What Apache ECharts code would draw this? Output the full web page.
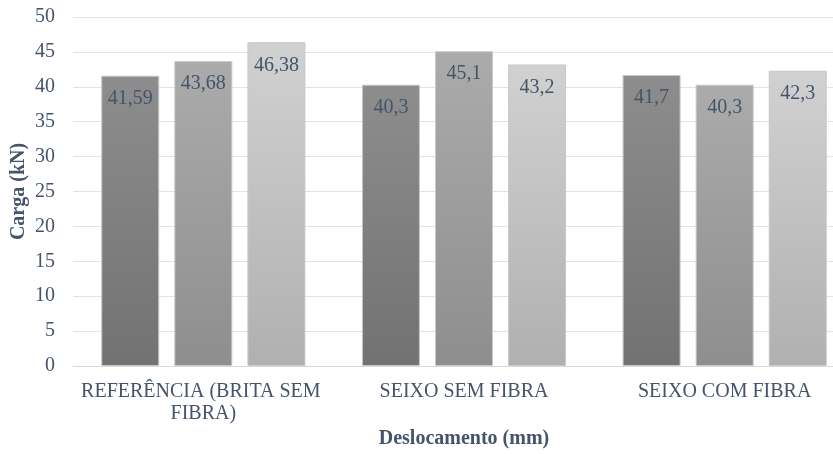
<!DOCTYPE html>
<html>
<head>
<meta charset="utf-8">
<script src="https://cdn.jsdelivr.net/npm/echarts@6/dist/echarts.min.js"></script>
<style>
  html, body { margin: 0; padding: 0; background: #fff; }
  #chart { width: 833px; height: 454px; }
</style>
</head>
<body>
<div id="chart"></div>
<script>
const chart = echarts.init(document.getElementById('chart'));

// data
const categories = ['REFERÊNCIA (BRITA SEM FIBRA)', 'SEIXO SEM FIBRA', 'SEIXO COM FIBRA'];
const serie1 = [41.59, 40.3, 41.7];
const serie2 = [43.68, 45.1, 40.3];
const serie3 = [46.38, 43.2, 42.3];
const yTicks = [0, 50, 5]; // min, max, interval

const textColor = '#44546a';
const fontName = '"Liberation Serif", "Times New Roman", serif';

// vertical gradients, one per series
const shades = [
  ['#8d8d8d', '#727272'],
  ['#ababab', '#8e8e8e'],
  ['#d1d1d1', '#b0b0b0']
];

function makeSeries(values, i) {
  return {
    type: 'bar',
    data: values,
    barWidth: 58,
    barGap: '26%',
    itemStyle: {
      color: new echarts.graphic.LinearGradient(0, 0, 0, 1, [
        { offset: 0, color: shades[i][0] },
        { offset: 1, color: shades[i][1] }
      ]),
      borderColor: '#c8c8c8',
      borderWidth: 1
    },
    label: {
      show: true,
      position: 'insideTop',
      distance: 13,
      color: textColor,
      fontFamily: fontName,
      fontSize: 20,
      formatter: p => String(p.value).replace('.', ',')
    }
  };
}

const option = {
  animation: false,
  // plot runs past the right edge in the original picture
  grid: { left: 73, width: 782, top: 17, bottom: 88, outerBoundsMode: 'none' },
  xAxis: {
    type: 'category',
    data: categories,
    axisTick: { show: false },
    axisLine: { lineStyle: { color: '#d9d9d9', width: 1 } },
    axisLabel: {
      interval: 0,
      color: textColor,
      fontFamily: fontName,
      fontSize: 20,
      margin: 15,
      width: 255,
      overflow: 'break',
      lineHeight: 22
    },
    name: 'Deslocamento (mm)',
    nameLocation: 'middle',
    nameMoveOverlap: false,
    nameGap: 63,
    nameTextStyle: { color: textColor, fontFamily: fontName, fontSize: 20, fontWeight: 'bold' }
  },
  yAxis: {
    type: 'value',
    min: yTicks[0],
    max: yTicks[1],
    interval: yTicks[2],
    axisLine: { show: false },
    axisTick: { show: false },
    splitLine: { lineStyle: { color: '#dfe3ea', width: 1 } },
    axisLabel: { color: textColor, fontFamily: fontName, fontSize: 20, margin: 18 },
    name: 'Carga (kN)',
    nameLocation: 'middle',
    nameMoveOverlap: false,
    nameGap: 44,
    nameTextStyle: { color: textColor, fontFamily: fontName, fontSize: 20, fontWeight: 'bold' }
  },
  series: [serie1, serie2, serie3].map(makeSeries)
};

chart.setOption(option);

window.addEventListener('resize', () => {
  chart.resize();
});
</script>
</body>
</html>
